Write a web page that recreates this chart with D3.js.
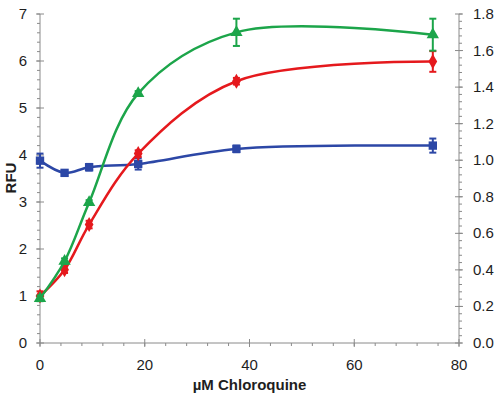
<!DOCTYPE html>
<html>
<head>
<meta charset="utf-8">
<script src="https://cdn.jsdelivr.net/npm/d3@7"></script>
<style>
  html, body { margin: 0; padding: 0; background: #fff; overflow: hidden; }
  svg { display: block; font-family: "Liberation Sans", Arial, sans-serif; }
</style>
</head>
<body>
<svg id="chart" width="500" height="397" viewBox="0 0 500 397"></svg>
<script>
const concentrations = [0, 4.69, 9.38, 18.75, 37.5, 75];
const blueValues = [3.88, 3.62, 3.74, 3.81, 4.13, 4.2];
const blueErrors = [0.15, 0.05, 0.07, 0.12, 0.07, 0.15];
const redValues = [1.0, 1.56, 2.52, 4.03, 5.57, 5.99];
const redErrors = [0.1, 0.07, 0.08, 0.07, 0.07, 0.22];
const greenValues = [0.95, 1.74, 2.99, 5.31, 6.61, 6.56];
const greenErrors = [0.06, 0.06, 0.05, 0.05, 0.29, 0.34];
const xTicks = [0, 20, 40, 60, 80];
const leftTicks = [0, 1, 2, 3, 4, 5, 6, 7];
const rightTicks = [0, 0.2, 0.4, 0.6, 0.8, 1.0, 1.2, 1.4, 1.6, 1.8];

const seriesInfo = [
  { id: "blue", values: blueValues, errors: blueErrors, color: "#2c47a6", shape: "square" },
  { id: "red", values: redValues, errors: redErrors, color: "#e5191d", shape: "diamond" },
  { id: "green", values: greenValues, errors: greenErrors, color: "#1ca54a", shape: "triangle" },
];

const margin = { top: 14, right: 41, bottom: 54, left: 40 };
const width = 500, height = 397;
const innerWidth = width - margin.left - margin.right;
const innerHeight = height - margin.top - margin.bottom;
const axisColor = "#8a8a8a";
const textColor = "#1e1e1e";

const svg = d3.select("#chart");
const innerChart = svg.append("g").attr("transform", `translate(${margin.left},${margin.top})`);

const xScale = d3.scaleLinear().domain([0, 80]).range([0, innerWidth]);
const yScale = d3.scaleLinear().domain([0, 7]).range([innerHeight, 0]);
const yRight = d3.scaleLinear().domain([0, 1.8]).range([innerHeight, 0]);

// minor ticks
const xMinor = d3.range(0, 80.01, 4);
const leftMinor = d3.range(0, 7.01, 0.2);
const rightMinor = d3.range(0, 1.801, 0.04);

const axes = innerChart.append("g").attr("stroke", axisColor).attr("stroke-width", 1);
axes.append("line").attr("x1", 0).attr("x2", innerWidth).attr("y1", innerHeight).attr("y2", innerHeight);
axes.append("line").attr("x1", 0).attr("x2", 0).attr("y1", 0).attr("y2", innerHeight);
axes.append("line").attr("x1", innerWidth).attr("x2", innerWidth).attr("y1", 0).attr("y2", innerHeight);

axes.selectAll(".x-minor").data(xMinor).join("line")
  .attr("x1", d => xScale(d)).attr("x2", d => xScale(d))
  .attr("y1", innerHeight).attr("y2", innerHeight + 3);
axes.selectAll(".x-major").data(xTicks).join("line")
  .attr("x1", d => xScale(d)).attr("x2", d => xScale(d))
  .attr("y1", innerHeight - 4).attr("y2", innerHeight + 4);

axes.selectAll(".l-minor").data(leftMinor).join("line")
  .attr("x1", -3).attr("x2", 0)
  .attr("y1", d => yScale(d)).attr("y2", d => yScale(d));
axes.selectAll(".l-major").data(leftTicks).join("line")
  .attr("x1", -4).attr("x2", 4)
  .attr("y1", d => yScale(d)).attr("y2", d => yScale(d));

axes.selectAll(".r-minor").data(rightMinor).join("line")
  .attr("x1", innerWidth).attr("x2", innerWidth + 3)
  .attr("y1", d => yRight(d)).attr("y2", d => yRight(d));
axes.selectAll(".r-major").data(rightTicks).join("line")
  .attr("x1", innerWidth - 4).attr("x2", innerWidth + 4)
  .attr("y1", d => yRight(d)).attr("y2", d => yRight(d));

// tick labels
const labels = innerChart.append("g").style("font-size", "15px").style("fill", textColor);
labels.selectAll(".xl").data(xTicks).join("text")
  .attr("x", d => xScale(d)).attr("y", innerHeight + 27)
  .attr("text-anchor", "middle").text(d => d);
labels.selectAll(".ll").data(leftTicks).join("text")
  .attr("x", -13).attr("y", d => yScale(d) + 5)
  .attr("text-anchor", "end").text(d => d);
labels.selectAll(".rl").data(rightTicks).join("text")
  .attr("x", innerWidth + 14).attr("y", d => yRight(d) + 5)
  .attr("text-anchor", "start").text(d => d3.format(".1f")(d));

// axis titles
svg.append("text")
  .attr("x", margin.left + xScale(40)).attr("y", 390)
  .attr("text-anchor", "middle")
  .style("font-size", "15px").style("font-weight", 700).style("fill", textColor)
  .text("µM Chloroquine");
svg.append("text")
  .attr("transform", "translate(16,178) rotate(-90)")
  .attr("text-anchor", "middle")
  .style("font-size", "15px").style("font-weight", 700).style("fill", textColor)
  .text("RFU");

// lines, error bars, markers
const lineGen = d3.line()
  .x(d => xScale(d.x))
  .y(d => yScale(d.y))
  .curve(d3.curveCatmullRom.alpha(0.5));

const symbolFor = {
  square: d3.symbol().type(d3.symbolSquare).size(70),
  diamond: d3.symbol().type(d3.symbolDiamond).size(66),
  triangle: d3.symbol().type(d3.symbolTriangle).size(66),
};

seriesInfo.forEach(series => {
  const points = concentrations.map((x, i) => ({ x, y: series.values[i], e: series.errors[i] }));
  const g = innerChart.append("g").attr("class", `series-${series.id}`);

  g.append("path")
    .datum(points)
    .attr("d", lineGen)
    .attr("fill", "none")
    .attr("stroke", series.color)
    .attr("stroke-width", 2.5);

  const bars = g.selectAll(".err").data(points).join("g")
    .attr("stroke", series.color).attr("stroke-width", 2);
  bars.append("line")
    .attr("x1", d => xScale(d.x)).attr("x2", d => xScale(d.x))
    .attr("y1", d => yScale(d.y - d.e)).attr("y2", d => yScale(d.y + d.e));
  bars.append("line")
    .attr("x1", d => xScale(d.x) - 3.5).attr("x2", d => xScale(d.x) + 3.5)
    .attr("y1", d => yScale(d.y - d.e)).attr("y2", d => yScale(d.y - d.e));
  bars.append("line")
    .attr("x1", d => xScale(d.x) - 3.5).attr("x2", d => xScale(d.x) + 3.5)
    .attr("y1", d => yScale(d.y + d.e)).attr("y2", d => yScale(d.y + d.e));

  g.selectAll(".marker").data(points).join("path")
    .attr("transform", d => `translate(${xScale(d.x)},${yScale(d.y)})`)
    .attr("d", symbolFor[series.shape]())
    .attr("fill", series.color);
});
</script>
</body>
</html>
